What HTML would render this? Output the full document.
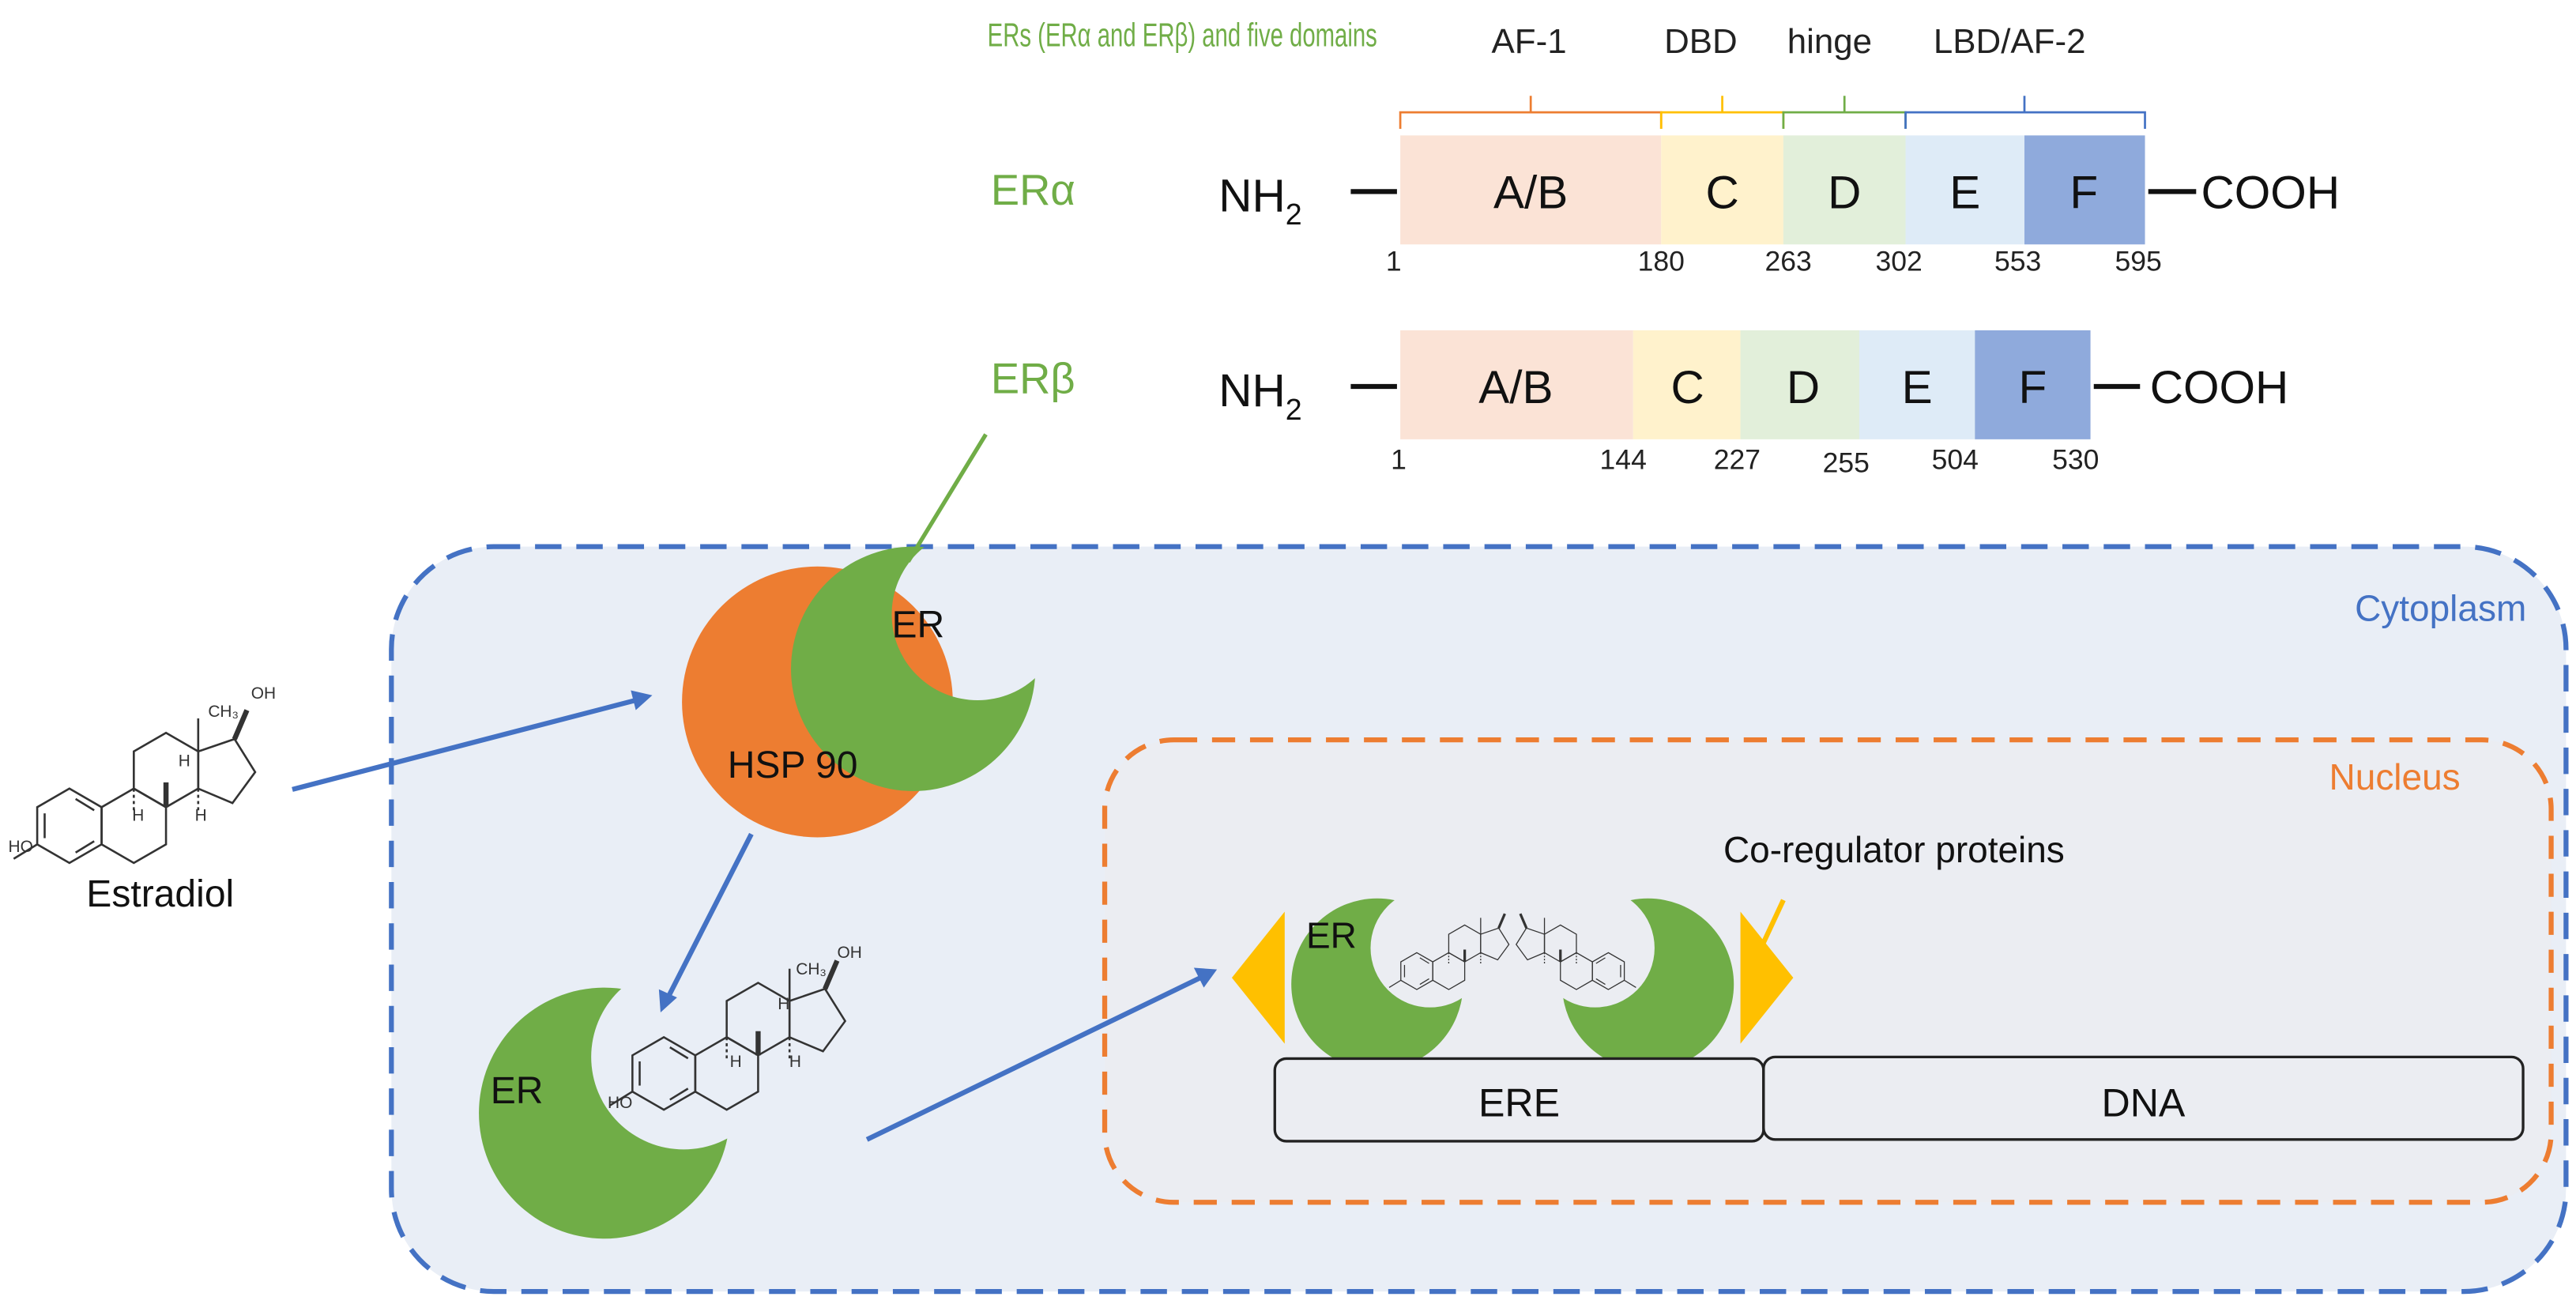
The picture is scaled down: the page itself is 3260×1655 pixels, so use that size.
<!DOCTYPE html>
<html><head><meta charset="utf-8"><style>
html,body{margin:0;padding:0;background:#fff;}
svg{display:block;font-family:"Liberation Sans",sans-serif;}
</style></head><body>
<svg width="3260" height="1655" viewBox="0 0 1560 792" xmlns="http://www.w3.org/2000/svg">
<defs>
<g id="ring" fill="none" stroke="#333" stroke-width="1">
<polygon points="0,-18 15.6,-9 15.6,9 0,18 -15.6,9 -15.6,-9"/>
<line x1="3" y1="-13" x2="12" y2="-7.5"/><line x1="3" y1="13" x2="12" y2="7.5"/><line x1="-12" y1="-6" x2="-12" y2="6"/>
<polygon points="31.2,-18 46.8,-9 46.8,9 31.2,18 15.6,9 15.6,-9"/>
<polygon points="46.8,-45 62.4,-36 62.4,-18 46.8,-9 31.2,-18 31.2,-36"/>
<polygon points="62.4,-36 80,-42 90,-26 79,-11 62.4,-18"/>
<line x1="62.4" y1="-36" x2="62.4" y2="-52"/>
<line x1="80" y1="-42" x2="86" y2="-56" stroke-width="2.5"/>
<line x1="-15.6" y1="9" x2="-27" y2="16"/>
<line x1="46.8" y1="-9" x2="46.8" y2="-21" stroke-width="2.5"/>
<line x1="31.2" y1="-18" x2="31.2" y2="-6" stroke-dasharray="1.5 1.5"/>
<line x1="62.4" y1="-18" x2="62.4" y2="-6" stroke-dasharray="1.5 1.5"/>
</g>
<mask id="m1"><rect x="0" y="0" width="1560" height="792" fill="#fff"/><circle cx="592" cy="372" r="52" fill="#000"/></mask>
<mask id="m2"><rect x="0" y="0" width="1560" height="792" fill="#fff"/><circle cx="414" cy="640" r="56" fill="#000"/></mask>
<mask id="m3"><rect x="0" y="0" width="1560" height="792" fill="#fff"/><circle cx="866" cy="574" r="36" fill="#000"/><circle cx="966" cy="574" r="36" fill="#000"/></mask>
</defs>

<!-- top labels -->
<text x="598" y="28" font-size="20" fill="#70ad47" textLength="236" lengthAdjust="spacingAndGlyphs">ERs (ERα and ERβ) and five domains</text>
<g font-size="21" fill="#222" text-anchor="middle">
<text x="926" y="32">AF-1</text><text x="1030" y="32">DBD</text><text x="1108" y="32">hinge</text><text x="1217" y="32">LBD/AF-2</text>
</g>
<!-- braces -->
<g fill="none" stroke-width="1.3">
<path d="M848,78 V68 H1006 V78 M927,68 V58" stroke="#ed7d31"/>
<path d="M1006,78 V68 H1080 V78 M1043,68 V58" stroke="#ffc000"/>
<path d="M1080,78 V68 H1154 V78 M1117,68 V58" stroke="#70ad47"/>
<path d="M1154,78 V68 H1299 V78 M1226,68 V58" stroke="#4472c4"/>
</g>
<!-- ER alpha -->
<text x="600" y="124" font-size="26" fill="#70ad47">ERα</text>
<text x="738" y="128" font-size="28" fill="#111">NH<tspan font-size="18" dy="8">2</tspan></text>
<line x1="818" y1="116" x2="846" y2="116" stroke="#111" stroke-width="3"/>
<rect x="848" y="82" width="158" height="66" fill="#fbe3d6"/>
<rect x="1006" y="82" width="74" height="66" fill="#fff2cc"/>
<rect x="1080" y="82" width="74" height="66" fill="#e2efda"/>
<rect x="1154" y="82" width="72" height="66" fill="#deebf7"/>
<rect x="1226" y="82" width="73" height="66" fill="#8faadc"/>
<g font-size="28" fill="#111" text-anchor="middle">
<text x="927" y="126">A/B</text><text x="1043" y="126">C</text><text x="1117" y="126">D</text><text x="1190" y="126">E</text><text x="1262" y="126">F</text>
</g>
<line x1="1301" y1="116" x2="1330" y2="116" stroke="#111" stroke-width="3"/>
<text x="1333" y="126" font-size="28" fill="#111">COOH</text>
<g font-size="17" fill="#222" text-anchor="middle">
<text x="844" y="164">1</text><text x="1006" y="164">180</text><text x="1083" y="164">263</text><text x="1150" y="164">302</text><text x="1222" y="164">553</text><text x="1295" y="164">595</text>
</g>
<!-- ER beta -->
<text x="600" y="238" font-size="26" fill="#70ad47">ERβ</text>
<text x="738" y="246" font-size="28" fill="#111">NH<tspan font-size="18" dy="8">2</tspan></text>
<line x1="818" y1="234" x2="846" y2="234" stroke="#111" stroke-width="3"/>
<rect x="848" y="200" width="141" height="66" fill="#fbe3d6"/>
<rect x="989" y="200" width="65" height="66" fill="#fff2cc"/>
<rect x="1054" y="200" width="72" height="66" fill="#e2efda"/>
<rect x="1126" y="200" width="70" height="66" fill="#deebf7"/>
<rect x="1196" y="200" width="70" height="66" fill="#8faadc"/>
<g font-size="28" fill="#111" text-anchor="middle">
<text x="918" y="244">A/B</text><text x="1022" y="244">C</text><text x="1092" y="244">D</text><text x="1161" y="244">E</text><text x="1231" y="244">F</text>
</g>
<line x1="1268" y1="234" x2="1296" y2="234" stroke="#111" stroke-width="3"/>
<text x="1302" y="244" font-size="28" fill="#111">COOH</text>
<g font-size="17" fill="#222" text-anchor="middle">
<text x="847" y="284">1</text><text x="983" y="284">144</text><text x="1052" y="284">227</text><text x="1118" y="286">255</text><text x="1184" y="284">504</text><text x="1257" y="284">530</text>
</g>

<!-- cytoplasm -->
<rect x="237" y="331" width="1317" height="451" rx="62" fill="#e9eef6" stroke="#4472c4" stroke-width="3" stroke-dasharray="16 9"/>
<text x="1530" y="376" font-size="22" fill="#4472c4" text-anchor="end">Cytoplasm</text>
<!-- nucleus -->
<rect x="669" y="448" width="876" height="280" rx="42" fill="#ebedf2" stroke="#ed7d31" stroke-width="3" stroke-dasharray="14 9"/>
<text x="1490" y="478" font-size="22" fill="#ed7d31" text-anchor="end">Nucleus</text>

<!-- green line ER beta -->
<line x1="597" y1="263" x2="550" y2="340" stroke="#70ad47" stroke-width="2.5"/>

<!-- HSP90 complex -->
<circle cx="495" cy="425" r="82" fill="#ed7d31"/>
<circle cx="553" cy="405" r="74" fill="#70ad47" mask="url(#m1)"/>
<text x="540" y="386" font-size="23" fill="#111">ER</text>
<text x="480" y="471" font-size="23" fill="#111" text-anchor="middle">HSP 90</text>

<!-- estradiol -->
<g transform="translate(42,500) scale(1.25)"><use href="#ring"/></g>
<g font-size="10" fill="#333"><text x="5" y="516">HO</text><text x="126" y="434">CH₃</text><text x="152" y="423">OH</text><text x="80" y="497">H</text><text x="118" y="497">H</text><text x="108" y="464">H</text></g>
<text x="97" y="549" font-size="23" fill="#111" text-anchor="middle">Estradiol</text>

<!-- arrows -->
<g stroke="#4472c4" stroke-width="3" fill="#4472c4">
<line x1="177" y1="478" x2="385" y2="424"/><polygon points="395,421 382,418 385,430" stroke="none"/>
<line x1="455" y1="505" x2="405" y2="603"/><polygon points="400,613 399,599 410,604" stroke="none"/>
<line x1="525" y1="690" x2="727" y2="592"/><polygon points="737,587 723,586 729,598" stroke="none"/>
</g>

<!-- bottom ER -->
<circle cx="366" cy="674" r="76" fill="#70ad47" mask="url(#m2)"/>
<text x="297" y="668" font-size="23" fill="#111">ER</text>
<g transform="translate(402,650) scale(1.22)"><use href="#ring"/></g>
<g font-size="10" fill="#333"><text x="368" y="671">HO</text><text x="482" y="590">CH₃</text><text x="507" y="580">OH</text><text x="442" y="646">H</text><text x="478" y="646">H</text><text x="471" y="611">H</text></g>

<!-- nucleus content -->
<text x="1147" y="522" font-size="22" fill="#111" text-anchor="middle">Co-regulator proteins</text>
<polygon points="778,552 778,632 746,592" fill="#ffc000"/>
<polygon points="1054,552 1054,632 1086,592" fill="#ffc000"/>
<line x1="1080" y1="545" x2="1066" y2="575" stroke="#ffc000" stroke-width="3"/>
<circle cx="834" cy="596" r="52" fill="#70ad47" mask="url(#m3)"/>
<circle cx="998" cy="596" r="52" fill="#70ad47" mask="url(#m3)"/>
<text x="791" y="574" font-size="22" fill="#111">ER</text>
<g transform="translate(858,588) scale(0.62)"><use href="#ring"/></g>
<g transform="translate(974,588) scale(-0.62,0.62)"><use href="#ring"/></g>
<rect x="772" y="641" width="296" height="50" rx="7" fill="#ebedf2" stroke="#222" stroke-width="1.6"/>
<rect x="1068" y="640" width="460" height="50" rx="7" fill="#ebedf2" stroke="#222" stroke-width="1.6"/>
<text x="920" y="676" font-size="24" fill="#111" text-anchor="middle">ERE</text>
<text x="1298" y="676" font-size="24" fill="#111" text-anchor="middle">DNA</text>
</svg>
</body></html>
